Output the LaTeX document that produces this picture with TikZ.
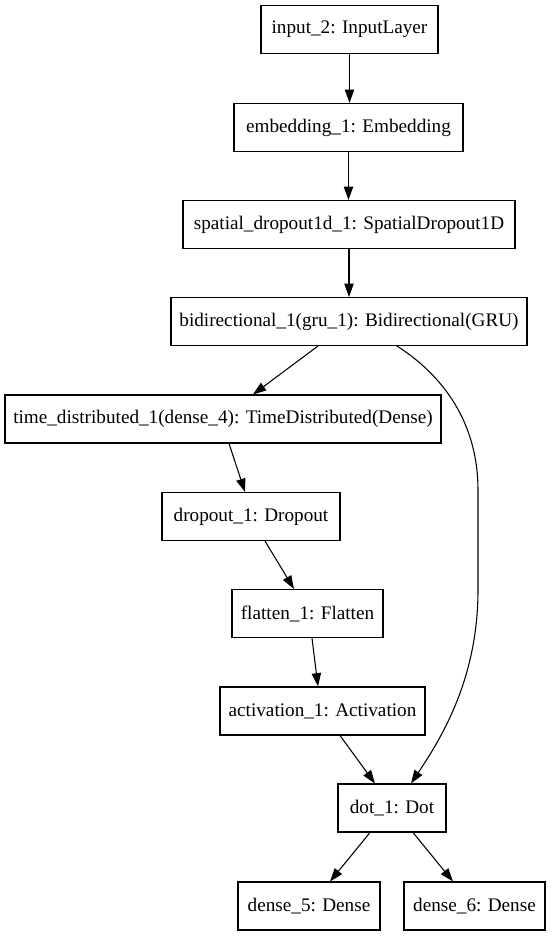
\documentclass[tikz,border=0pt]{standalone}
\usepackage{fontspec}
\setmainfont{Liberation Serif}
\usetikzlibrary{arrows.meta,calc}
\begin{document}
\begin{tikzpicture}[x=0.75pt,y=-0.75pt,
  layer/.style={draw, line width=0.8pt, rectangle, inner sep=0pt, minimum height=36pt,
    font=\fontsize{14.4pt}{16pt}\selectfont},
  conn/.style={line width=0.8pt, -{Triangle[length=10pt,width=7pt]}}]
\useasboundingbox (0,0) rectangle (553,936);
\node[layer, minimum width=132.75pt] (inp) at (349.5,29.5) {input\_2: InputLayer};
\node[layer, minimum width=171.75pt] (emb) at (348.5,127.5) {embedding\_1: Embedding};
\node[layer, minimum width=249pt] (spd) at (349,224.5) {spatial\_dropout1d\_1: SpatialDropout1D};
\node[layer, minimum width=267pt] (bid) at (349,321.5) {bidirectional\_1(gru\_1): Bidirectional(GRU)};
\node[layer, minimum width=327pt] (td) at (223,419) {time\_distributed\_1(dense\_4): TimeDistributed(Dense)};
\node[layer, minimum width=133.5pt] (do) at (251,516.5) {dropout\_1: Dropout};
\node[layer, minimum width=113.25pt] (fl) at (307.5,613.5) {flatten\_1: Flatten};
\node[layer, minimum width=153.75pt] (act) at (322.5,711) {activation\_1: Activation};
\node[layer, minimum width=81pt] (dot) at (392,808) {dot\_1: Dot};
\node[layer, minimum width=106.5pt] (d5) at (309,906) {dense\_5: Dense};
\node[layer, minimum width=105.75pt] (d6) at (474.5,906) {dense\_6: Dense};

\draw[conn] (inp.south) -- (inp.south |- emb.north);
\draw[conn] (emb.south) -- (emb.south |- spd.north);
\draw[conn] (spd.south) -- (spd.south |- bid.north);
\draw[conn] ($(bid.south)+(-31,0)$) -- ($(td.north)+(30,0)$);
\draw[conn] ($(td.south)+(6,0)$) -- ($(do.north)+(-6,0)$);
\draw[conn] ($(do.south)+(14,0)$) -- ($(fl.north)+(-13.5,0)$);
\draw[conn] ($(fl.south)+(4.5,0)$) -- ($(act.north)+(-4.5,0)$);
\draw[conn] ($(act.south)+(17.5,0)$) -- ($(dot.north)+(-17,0)$);
\draw[conn] ($(dot.south)+(-22,0)$) -- ($(d5.north)+(21,0)$);
\draw[conn] ($(dot.south)+(21,0)$) -- ($(d6.north)+(-21.5,0)$);
\draw[conn] ($(bid.south)+(48,0)$) .. controls (450,380) and (478,430) .. (478,490)
  -- (478,590) .. controls (478,680) and (440,740) .. ($(dot.north)+(19,0)$);
\end{tikzpicture}
\end{document}
